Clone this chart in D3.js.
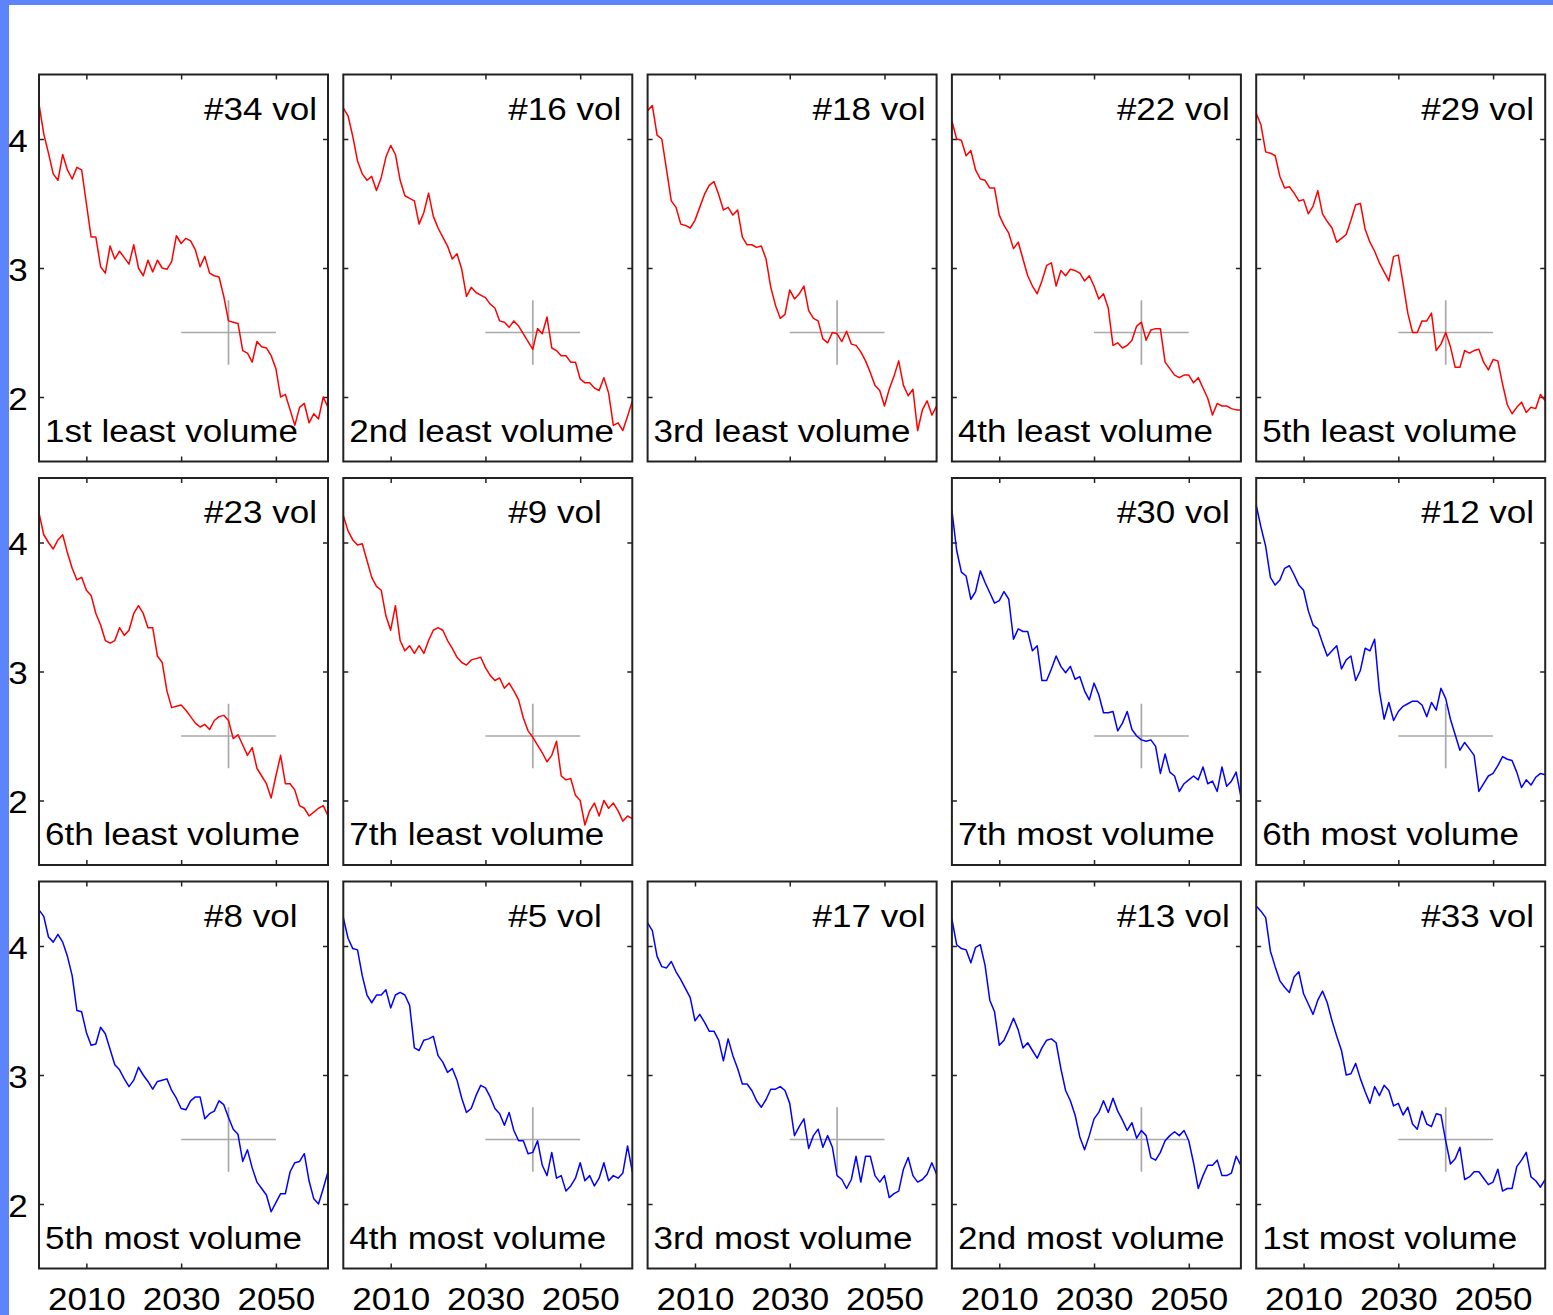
<!DOCTYPE html>
<html>
<head>
<meta charset="utf-8">
<script src="https://cdn.jsdelivr.net/npm/d3@7"></script>
<style>
  body { margin: 0; background: #fff; }
  svg text { font-family: "Liberation Sans", Arial, Helvetica, sans-serif; }
</style>
</head>
<body>
<div class="chart"></div>
<script>
//years covered by every series (one value per year)
const firstYear = 2000;
const lastYear = 2061;

//least volume series (red)
const vol34 = [4.27,4.04,3.89,3.73,3.68,3.88,3.76,3.69,3.78,3.76,3.50,3.24,3.24,3.01,2.96,3.17,3.07,3.13,3.08,3.03,3.18,3.00,2.94,3.06,2.97,3.06,3.00,2.99,3.05,3.25,3.19,3.23,3.21,3.14,3.01,3.09,2.96,2.94,2.93,2.78,2.59,2.58,2.57,2.36,2.34,2.27,2.43,2.39,2.38,2.32,2.22,2.00,2.02,1.90,1.78,1.92,1.95,1.80,1.87,1.83,2.00,1.92];
const vol16 = [4.24,4.18,4.02,3.83,3.73,3.68,3.71,3.60,3.70,3.86,3.95,3.88,3.68,3.56,3.54,3.52,3.34,3.43,3.58,3.40,3.31,3.24,3.17,3.07,3.11,2.99,2.78,2.85,2.81,2.79,2.77,2.72,2.69,2.59,2.58,2.54,2.59,2.55,2.49,2.43,2.37,2.53,2.49,2.62,2.38,2.36,2.32,2.32,2.27,2.27,2.14,2.11,2.11,2.07,2.05,2.15,2.03,1.78,1.80,1.74,1.85,1.97];
const vol18 = [4.22,4.26,4.03,4.00,3.76,3.52,3.47,3.34,3.33,3.31,3.37,3.47,3.57,3.64,3.67,3.57,3.45,3.47,3.41,3.45,3.24,3.18,3.18,3.16,3.17,3.07,2.85,2.71,2.61,2.64,2.83,2.76,2.80,2.86,2.67,2.61,2.59,2.45,2.42,2.50,2.49,2.43,2.51,2.41,2.40,2.35,2.28,2.19,2.09,2.05,1.93,2.06,2.16,2.28,2.09,2.01,2.06,1.74,1.90,1.97,1.86,1.93];
const vol22 = [4.14,4.00,3.99,3.87,3.91,3.76,3.69,3.68,3.62,3.62,3.41,3.33,3.27,3.15,3.20,3.07,2.94,2.86,2.80,2.90,3.02,3.04,2.86,2.98,2.94,2.99,2.98,2.96,2.90,2.94,2.86,2.76,2.80,2.69,2.40,2.42,2.38,2.40,2.44,2.55,2.58,2.44,2.52,2.53,2.53,2.27,2.22,2.17,2.15,2.17,2.17,2.11,2.15,2.07,1.99,1.86,1.95,1.93,1.93,1.91,1.90,1.90];
const vol29 = [4.20,4.11,3.90,3.89,3.87,3.71,3.62,3.63,3.58,3.52,3.53,3.42,3.48,3.60,3.42,3.36,3.31,3.20,3.23,3.26,3.37,3.49,3.50,3.30,3.20,3.13,3.04,2.97,2.90,3.09,3.10,2.88,2.65,2.50,2.50,2.59,2.59,2.65,2.36,2.41,2.50,2.39,2.23,2.23,2.36,2.34,2.36,2.37,2.27,2.21,2.29,2.28,2.10,1.94,1.87,1.92,1.96,1.88,1.92,1.91,2.02,1.97];
const vol23 = [4.23,4.06,4.00,3.95,4.02,4.06,3.92,3.80,3.71,3.73,3.63,3.59,3.45,3.36,3.24,3.22,3.24,3.34,3.28,3.32,3.45,3.51,3.45,3.34,3.34,3.12,3.07,2.85,2.72,2.73,2.74,2.70,2.65,2.60,2.57,2.59,2.55,2.62,2.65,2.66,2.62,2.48,2.51,2.43,2.35,2.41,2.25,2.19,2.13,2.02,2.19,2.35,2.13,2.13,2.08,1.96,1.94,1.88,1.91,1.94,1.96,1.88];
const vol9 = [4.21,4.09,4.02,3.98,3.99,3.86,3.73,3.66,3.63,3.43,3.32,3.51,3.24,3.16,3.20,3.14,3.20,3.14,3.24,3.32,3.34,3.32,3.24,3.18,3.11,3.07,3.05,3.09,3.10,3.11,3.03,2.97,2.93,2.95,2.87,2.91,2.85,2.78,2.64,2.54,2.49,2.43,2.37,2.30,2.35,2.46,2.19,2.16,2.17,2.04,2.00,1.81,1.92,1.98,1.88,2.00,1.94,1.98,1.92,1.84,1.88,1.86];

//most volume series (blue)
const vol30 = [4.25,3.94,3.77,3.74,3.56,3.62,3.78,3.69,3.61,3.53,3.55,3.62,3.56,3.25,3.33,3.31,3.31,3.16,3.20,2.93,2.93,3.02,3.12,3.04,2.99,3.04,2.94,2.96,2.85,2.78,2.91,2.82,2.68,2.68,2.69,2.54,2.60,2.69,2.55,2.50,2.47,2.46,2.47,2.42,2.21,2.36,2.22,2.19,2.07,2.13,2.16,2.19,2.16,2.26,2.13,2.15,2.07,2.26,2.11,2.15,2.22,2.03];
const vol12 = [4.29,4.12,3.97,3.73,3.67,3.71,3.80,3.82,3.75,3.67,3.63,3.47,3.36,3.33,3.22,3.12,3.16,3.20,3.02,3.09,3.12,2.93,3.01,3.18,3.16,3.25,2.85,2.63,2.76,2.62,2.69,2.73,2.75,2.77,2.77,2.74,2.65,2.76,2.70,2.87,2.79,2.63,2.51,2.39,2.45,2.40,2.35,2.07,2.13,2.19,2.21,2.27,2.34,2.32,2.31,2.22,2.10,2.16,2.12,2.18,2.21,2.20];
const vol8 = [4.28,4.23,4.07,4.03,4.09,4.03,3.92,3.77,3.50,3.49,3.33,3.23,3.24,3.37,3.32,3.20,3.08,3.04,2.97,2.91,2.96,3.06,3.00,2.95,2.89,2.95,2.96,2.97,2.88,2.82,2.74,2.73,2.80,2.83,2.83,2.66,2.70,2.72,2.80,2.77,2.67,2.58,2.54,2.33,2.42,2.28,2.17,2.12,2.07,1.94,2.01,2.08,2.08,2.25,2.32,2.33,2.39,2.18,2.04,2.00,2.12,2.25];
const vol5 = [4.22,4.06,3.98,3.97,3.77,3.62,3.56,3.62,3.62,3.66,3.52,3.62,3.64,3.62,3.54,3.21,3.19,3.27,3.28,3.30,3.15,3.10,3.02,3.05,2.96,2.82,2.71,2.74,2.84,2.92,2.90,2.83,2.74,2.70,2.61,2.71,2.57,2.49,2.49,2.39,2.40,2.49,2.30,2.22,2.40,2.20,2.22,2.10,2.14,2.20,2.32,2.18,2.22,2.14,2.20,2.32,2.18,2.22,2.20,2.24,2.45,2.25];
const vol17 = [4.18,4.12,3.92,3.84,3.83,3.88,3.80,3.74,3.67,3.60,3.42,3.47,3.41,3.34,3.34,3.27,3.11,3.28,3.15,3.05,2.93,2.93,2.88,2.80,2.75,2.81,2.89,2.89,2.91,2.88,2.78,2.53,2.60,2.66,2.43,2.53,2.58,2.44,2.53,2.44,2.22,2.19,2.12,2.19,2.37,2.17,2.37,2.37,2.22,2.17,2.22,2.05,2.08,2.10,2.27,2.36,2.22,2.17,2.19,2.23,2.32,2.23];
const vol13 = [4.21,4.01,3.98,3.97,3.87,3.99,4.01,3.85,3.58,3.49,3.23,3.27,3.35,3.44,3.35,3.21,3.25,3.19,3.13,3.21,3.27,3.28,3.25,3.05,2.88,2.80,2.69,2.52,2.42,2.53,2.66,2.71,2.80,2.71,2.82,2.72,2.65,2.57,2.63,2.51,2.57,2.53,2.36,2.34,2.40,2.49,2.53,2.56,2.53,2.57,2.49,2.32,2.12,2.22,2.30,2.30,2.34,2.22,2.22,2.24,2.37,2.30];
const vol33 = [4.31,4.27,4.22,3.96,3.84,3.73,3.68,3.64,3.76,3.80,3.63,3.55,3.47,3.58,3.65,3.56,3.42,3.30,3.19,3.00,3.01,3.09,2.97,2.87,2.78,2.91,2.84,2.92,2.88,2.76,2.78,2.69,2.75,2.62,2.58,2.72,2.62,2.60,2.70,2.69,2.49,2.31,2.35,2.44,2.19,2.21,2.25,2.25,2.20,2.15,2.17,2.27,2.10,2.12,2.12,2.29,2.34,2.40,2.21,2.18,2.13,2.19];

//panel order, row by row (null = empty slot)
const panelVols = [34, 16, 18, 22, 29, 23, 9, null, 30, 12, 8, 5, 17, 13, 33];
const panelLabels = [
  "1st least volume", "2nd least volume", "3rd least volume", "4th least volume", "5th least volume",
  "6th least volume", "7th least volume", null, "7th most volume", "6th most volume",
  "5th most volume", "4th most volume", "3rd most volume", "2nd most volume", "1st most volume"
];

//tick labels
const xTicks = [2010, 2030, 2050];
const yTicks = [2, 3, 4];

//reference cross: centre and half sizes
const crossYear = 2040;
const crossValue = 2.5;
const crossHalfYears = 10;
const crossHalfValue = 0.25;

const seriesByVol = {34: vol34, 16: vol16, 18: vol18, 22: vol22, 29: vol29, 23: vol23, 9: vol9,
  30: vol30, 12: vol12, 8: vol8, 5: vol5, 17: vol17, 13: vol13, 33: vol33};

//SVG width and height, panel grid
const fullSVGWidth = 1553;
const fullSVGHeight = 1315;
const grid = { left: 39, top: 74.5, width: 289, height: 387, stepX: 304.3, stepY: 403.5, cols: 5 };
const fontSize = 31;
const stretch = 1.13;

const svg = d3
  .select(".chart")
  .append("svg")
  .attr("width", fullSVGWidth)
  .attr("height", fullSVGHeight);

//slide border (blue strips on top and left)
svg.append("rect").attr("x", 0).attr("y", 0).attr("width", fullSVGWidth).attr("height", 5).attr("fill", "#5b84fd");
svg.append("rect").attr("x", 0).attr("y", 0).attr("width", 9).attr("height", fullSVGHeight).attr("fill", "#5b84fd");

//shared scales
const xScale = d3.scaleLinear().domain([firstYear, lastYear]).range([0, grid.width]);
const yScale = d3.scaleLinear().domain([1.5, 4.5]).range([grid.height, 0]);

const line = d3
  .line()
  .x((d, i) => xScale(firstYear + i))
  .y(d => yScale(d));

function styleTicks(g, showText) {
  g.select(".domain").remove();
  g.attr("color", "#222");
  g.selectAll("line").attr("stroke-width", 1.5);
  g.selectAll("text")
    .style("font-size", fontSize + "px")
    .style("font-family", '"Liberation Sans", Arial, sans-serif')
    .attr("fill", "#000")
    .attr("transform", "scale(" + stretch + ",1)")
    .style("display", showText ? null : "none");
}

panelVols.forEach((vol, k) => {
  if (vol === null) return;
  const col = k % grid.cols;
  const row = Math.floor(k / grid.cols);
  const label = panelLabels[k];
  const color = label.indexOf("least") >= 0 ? "#ff0000" : "#0000ff";

  const g = svg
    .append("g")
    .attr("transform", "translate(" + (grid.left + col * grid.stepX) + "," + (grid.top + row * grid.stepY) + ")");

  //ticks on all four sides, pointing inward
  g.append("g")
    .attr("transform", "translate(0," + grid.height + ")")
    .call(d3.axisBottom(xScale).tickValues(xTicks).tickSize(-5).tickPadding(19).tickFormat(d3.format("d")))
    .call(s => styleTicks(s, row === 2));
  g.append("g")
    .call(d3.axisTop(xScale).tickValues(xTicks).tickSize(-5))
    .call(s => styleTicks(s, false));
  g.append("g")
    .call(d3.axisLeft(yScale).tickValues(yTicks).tickSize(-5).tickPadding(10).tickFormat(d3.format("d")))
    .call(s => styleTicks(s, col === 0))
    .selectAll("text")
    .attr("dy", "0.4em");
  g.append("g")
    .attr("transform", "translate(" + grid.width + ",0)")
    .call(d3.axisRight(yScale).tickValues(yTicks).tickSize(-5))
    .call(s => styleTicks(s, false));

  //reference cross
  g.append("line")
    .attr("x1", xScale(crossYear - crossHalfYears))
    .attr("x2", xScale(crossYear + crossHalfYears))
    .attr("y1", yScale(crossValue))
    .attr("y2", yScale(crossValue))
    .attr("stroke", "#a9a9a9")
    .attr("stroke-width", 1.7);
  g.append("line")
    .attr("x1", xScale(crossYear))
    .attr("x2", xScale(crossYear))
    .attr("y1", yScale(crossValue - crossHalfValue))
    .attr("y2", yScale(crossValue + crossHalfValue))
    .attr("stroke", "#a9a9a9")
    .attr("stroke-width", 1.7);

  //series
  g.append("path")
    .datum(seriesByVol[vol])
    .attr("d", line)
    .attr("fill", "none")
    .attr("stroke", color)
    .attr("stroke-width", 1.5)
    .attr("stroke-linejoin", "round");

  //frame
  g.append("rect")
    .attr("width", grid.width)
    .attr("height", grid.height)
    .attr("fill", "none")
    .attr("stroke", "#222")
    .attr("stroke-width", 2);

  //labels
  g.append("text")
    .attr("transform", "translate(165,45) scale(" + stretch + ",1)")
    .style("font-size", fontSize + "px")
    .text("#" + vol + " vol");
  g.append("text")
    .attr("transform", "translate(6,367) scale(" + stretch + ",1)")
    .style("font-size", fontSize + "px")
    .text(label);
});
</script>
</body>
</html>
